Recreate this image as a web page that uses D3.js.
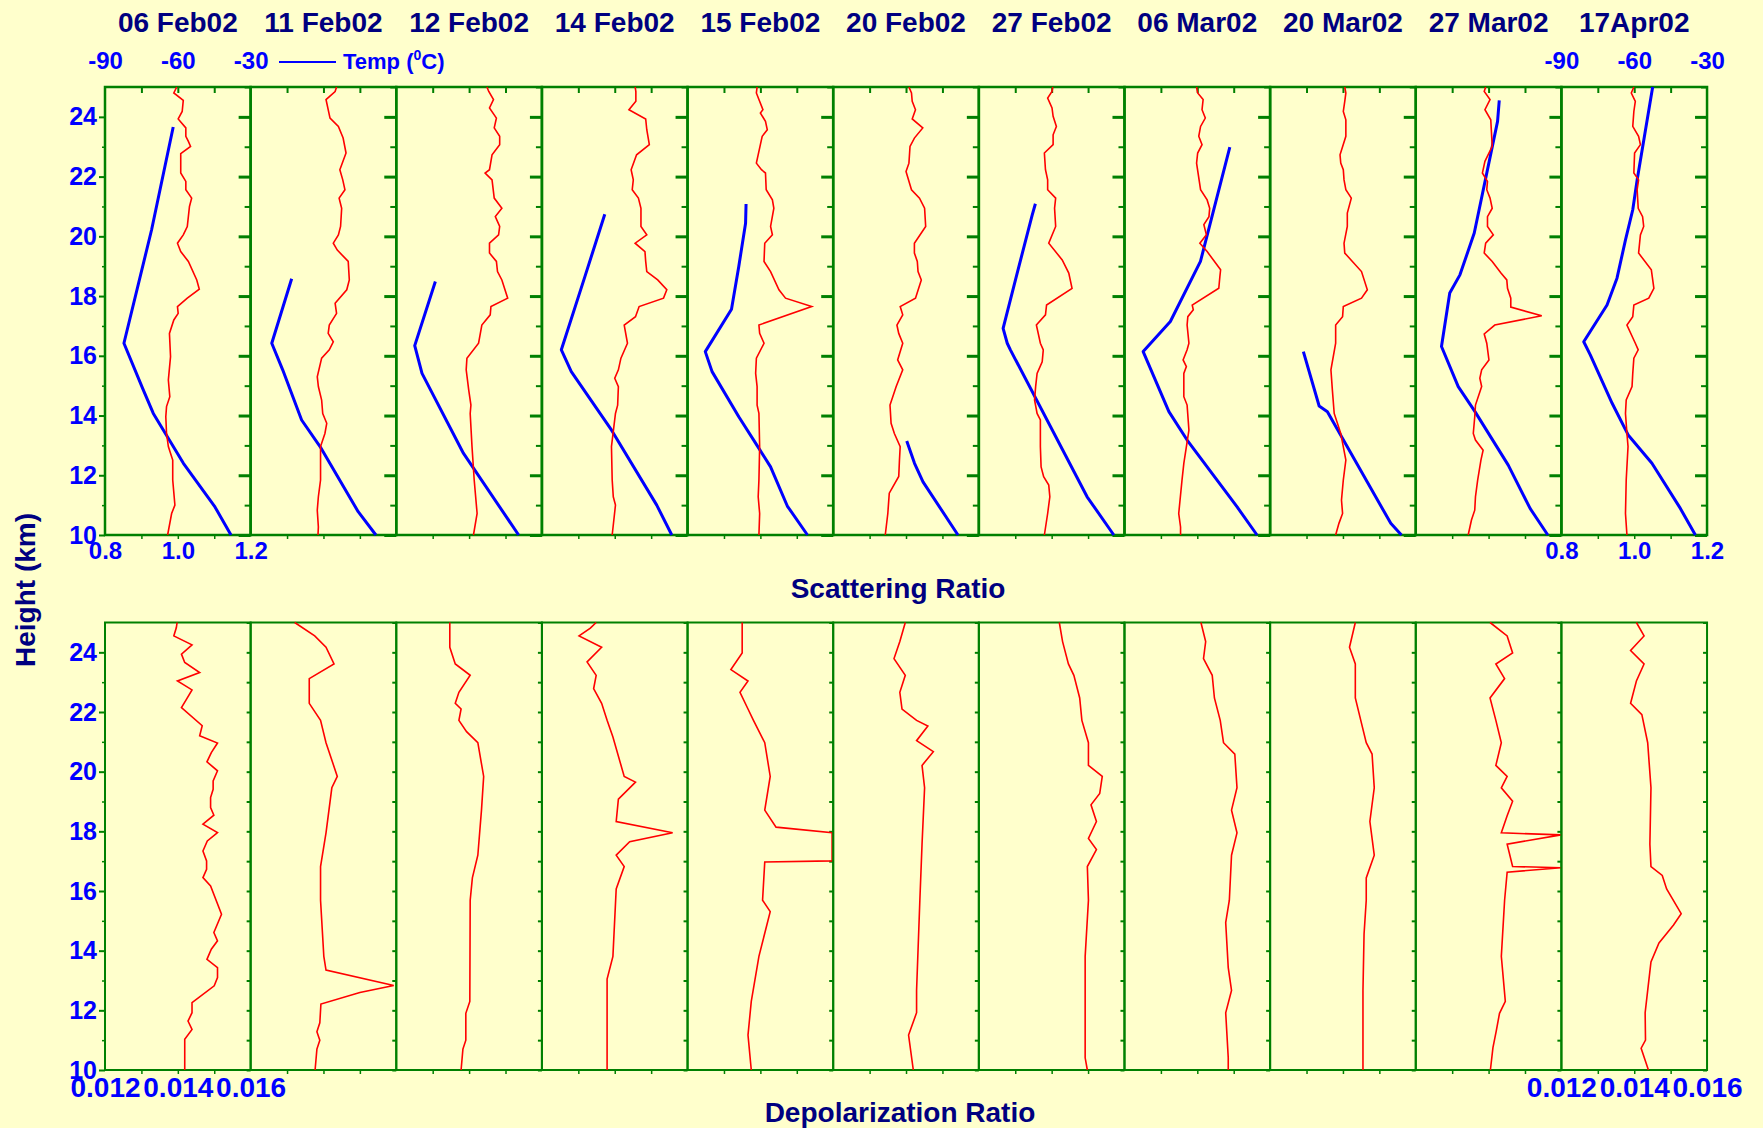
<!DOCTYPE html>
<html><head><meta charset="utf-8">
<script src="https://cdn.jsdelivr.net/npm/d3@7"></script>
<style>html,body{margin:0;padding:0;background:#FFFFCC;} svg{display:block;}</style>
</head><body><svg id="c" width="1763" height="1128"></svg>
<script>
// ---------------- DATA ----------------
const dates = ["06 Feb02","11 Feb02","12 Feb02","14 Feb02","15 Feb02","20 Feb02","27 Feb02","06 Mar02","20 Mar02","27 Mar02","17Apr02"];
const heightTicks = [10,12,14,16,18,20,22,24];
const srTickLabels = [0.8,1.0,1.2];
const tempTickLabels = [-90,-60,-30];
const dpTickLabels = [0.012,0.014,0.016];

// scattering ratio profiles [height km, ratio]
const sr06Feb = [[25,0.997],[24.8,0.989],[24.55,1.015],[24.18,1.012],[23.93,1.001],[23.63,1.022],[23.35,1.022],[23.18,1.029],[23.01,1.035],[22.77,1.008],[22.12,1.008],[21.84,1.022],[21.56,1.022],[21.28,1.038],[21.0,1.032],[20.33,1.026],[20.05,1.015],[19.77,0.999],[19.49,1.008],[19.16,1.029],[18.54,1.052],[18.23,1.059],[17.93,1.026],[17.65,0.999],[17.42,1.001],[17.2,0.989],[16.75,0.977],[15.97,0.980],[15.19,0.974],[14.63,0.978],[14.30,0.969],[13.96,0.967],[13.40,0.969],[12.96,0.974],[12.51,0.986],[11.84,0.986],[11.0,0.992],[10.72,0.983],[10.0,0.972]];
const sr11Feb = [[25,1.036],[24.85,1.032],[24.58,1.007],[23.96,1.018],[23.68,1.041],[23.29,1.054],[22.79,1.062],[22.23,1.045],[21.89,1.053],[21.56,1.059],[21.28,1.043],[20.94,1.050],[20.33,1.047],[20.05,1.041],[19.77,1.027],[19.54,1.038],[19.16,1.068],[18.54,1.071],[18.21,1.064],[17.76,1.032],[17.42,1.036],[17.03,1.016],[16.75,1.013],[16.47,1.027],[16.2,1.016],[15.92,0.995],[15.3,0.983],[14.97,0.986],[14.52,0.995],[14.07,0.998],[13.74,1.009],[13.40,1.004],[12.96,0.992],[11.84,0.992],[11.28,0.986],[10.83,0.983],[10.27,0.986],[10,0.985]];
const sr12Feb = [[25,1.049],[24.85,1.054],[24.58,1.067],[24.30,1.056],[23.96,1.075],[23.63,1.069],[23.35,1.084],[23.07,1.084],[22.73,1.063],[22.23,1.056],[22.12,1.044],[21.89,1.063],[21.28,1.069],[20.94,1.090],[20.66,1.072],[20.33,1.084],[20.05,1.081],[19.77,1.056],[19.44,1.056],[19.16,1.075],[18.82,1.078],[18.54,1.090],[17.93,1.106],[17.65,1.060],[17.37,1.058],[17.03,1.035],[16.42,1.026],[15.92,0.994],[15.53,0.992],[14.85,0.999],[14.35,1.005],[14.07,1.003],[12.96,1.008],[11.84,1.014],[10.72,1.022],[10,1.012]];
const sr14Feb = [[25,1.056],[24.85,1.058],[24.52,1.058],[24.24,1.039],[23.93,1.085],[23.57,1.088],[23.07,1.095],[22.73,1.060],[22.23,1.045],[21.89,1.051],[21.56,1.048],[21.28,1.065],[20.94,1.072],[20.33,1.072],[20.05,1.088],[19.77,1.056],[19.49,1.083],[19.16,1.085],[18.82,1.088],[18.54,1.118],[18.21,1.143],[17.93,1.134],[17.65,1.067],[17.31,1.057],[17.03,1.026],[16.42,1.035],[15.92,1.017],[15.53,1.010],[15.25,1.000],[14.97,1.010],[14.35,1.008],[14.07,1.002],[12.96,0.991],[11.84,0.993],[11.28,0.996],[11.0,1.002],[10,0.993]];
const sr15Feb = [[25,0.991],[24.8,0.989],[24.58,0.996],[24.24,1.007],[24.13,1.000],[23.85,1.014],[23.57,1.019],[23.35,1.005],[23.07,1.000],[22.45,0.989],[22.23,1.003],[22.12,1.014],[21.56,1.016],[21.22,1.033],[20.94,1.037],[20.33,1.028],[20.05,1.033],[19.77,1.012],[19.16,1.010],[18.82,1.028],[18.21,1.051],[17.93,1.069],[17.65,1.141],[17.03,0.996],[16.75,0.998],[16.42,1.010],[15.92,0.989],[15.41,0.987],[14.97,0.991],[14.35,0.991],[14.07,0.996],[12.96,0.998],[11.84,0.996],[11.28,0.994],[10.72,0.998],[10,0.996]];
const sr20Feb = [[25,1.008],[24.8,1.015],[24.52,1.017],[24.24,1.026],[23.93,1.017],[23.63,1.046],[23.29,1.023],[23.01,1.011],[22.45,1.008],[22.17,1.000],[21.56,1.015],[21.28,1.037],[20.94,1.051],[20.33,1.054],[19.77,1.023],[19.44,1.023],[19.16,1.031],[18.82,1.033],[18.54,1.042],[17.93,1.026],[17.65,0.984],[17.37,0.991],[17.03,0.975],[16.75,0.980],[16.42,0.991],[15.86,0.977],[15.53,0.991],[14.97,0.973],[14.35,0.956],[13.74,0.959],[13.40,0.968],[12.96,0.984],[12.51,0.982],[11.96,0.980],[11.40,0.954],[10.72,0.950],[10,0.943]];
const sr27Feb = [[25,1.003],[24.85,1.001],[24.63,0.989],[24.3,1.001],[24.02,1.004],[23.68,1.013],[23.40,1.004],[23.07,1.004],[22.79,0.980],[22.23,0.983],[21.89,0.989],[21.56,0.989],[21.28,1.011],[20.94,1.008],[20.33,1.011],[19.77,0.992],[19.21,1.029],[18.77,1.047],[18.26,1.056],[17.70,0.986],[17.37,0.983],[17.03,0.958],[16.42,0.969],[16.20,0.977],[15.80,0.974],[15.41,0.960],[14.97,0.956],[14.52,0.953],[14.07,0.960],[13.85,0.969],[12.96,0.969],[12.28,0.971],[11.95,0.978],[11.67,0.992],[11.28,0.995],[10.72,0.989],[10,0.980]];
const sr06Mar = [[25,0.998],[24.8,1.001],[24.58,1.016],[24.24,1.013],[23.96,1.022],[23.68,1.009],[23.35,1.004],[23.07,1.013],[22.79,1.001],[22.45,0.998],[21.56,1.009],[21.22,1.027],[20.94,1.034],[20.66,1.032],[20.39,1.018],[20.05,1.025],[19.77,1.007],[19.49,1.027],[18.88,1.064],[18.65,1.062],[18.26,1.059],[17.70,0.986],[17.54,0.989],[17.31,0.974],[17.03,0.972],[16.42,0.977],[16.20,0.972],[15.86,0.961],[15.64,0.970],[15.41,0.963],[14.63,0.963],[14.35,0.972],[13.51,0.977],[12.40,0.963],[11.84,0.958],[10.72,0.949],[10.27,0.954],[10,0.954]];
const sr20Mar = [[25,1.005],[24.8,1.008],[24.52,1.005],[24.18,1.001],[23.9,1.008],[23.35,1.008],[22.73,0.992],[22.45,0.994],[22.23,1.001],[21.89,1.003],[21.56,1.008],[21.28,1.023],[20.78,1.012],[20.33,1.012],[19.77,1.003],[19.44,1.005],[18.82,1.051],[18.21,1.067],[17.93,1.051],[17.65,1.001],[17.31,0.999],[17.03,0.980],[16.42,0.980],[15.53,0.967],[14.85,0.971],[14.07,0.976],[13.40,0.994],[12.51,1.008],[11.84,1.001],[11.17,0.996],[10.72,0.999],[10.39,0.989],[10,0.980]];
const sr27Mar = [[25,0.992],[24.85,0.988],[24.58,1.004],[24.24,0.990],[23.9,1.006],[23.01,1.010],[22.51,0.990],[22.12,0.983],[21.84,0.997],[21.56,0.995],[21.28,1.004],[20.94,1.010],[20.66,0.997],[20.33,0.997],[20.05,1.013],[19.77,0.992],[19.44,0.988],[19.16,1.010],[18.77,1.034],[18.54,1.050],[18.26,1.052],[17.93,1.061],[17.63,1.061],[17.34,1.146],[17.03,1.017],[16.73,0.988],[16.42,0.995],[15.86,1.001],[15.53,0.981],[15.25,0.976],[14.97,0.981],[14.35,0.964],[13.96,0.962],[13.40,0.958],[13.18,0.964],[12.84,0.985],[12.51,0.979],[11.84,0.970],[11.28,0.964],[10.83,0.962],[10.50,0.953],[10,0.944]];
const sr17Apr = [[25,0.999],[24.8,0.992],[24.52,1.003],[24.18,0.999],[23.68,0.996],[23.35,1.012],[23.07,1.017],[22.79,1.001],[22.12,0.999],[21.89,1.012],[21.56,1.008],[20.94,1.011],[20.66,1.023],[20.33,1.026],[20.05,1.017],[19.44,1.012],[18.88,1.047],[18.26,1.054],[17.93,1.040],[17.70,0.999],[17.31,0.996],[17.03,0.980],[16.42,1.003],[16.20,1.011],[15.92,0.999],[15.41,0.996],[14.97,0.994],[14.52,0.978],[14.07,0.976],[13.40,0.980],[12.96,0.983],[11.84,0.978],[10.72,0.976],[10,0.980]];

// temperature profiles [height km, deg C]
const t06Feb = [[23.66,-61.9],[20.22,-70.8],[16.42,-82.2],[14.91,-74.5],[14.07,-70.1],[12.40,-57.7],[10.94,-44.7],[10.0,-38.1]];
const t11Feb = [[18.58,-73.1],[16.42,-81.3],[15.53,-76.8],[13.85,-69.0],[12.96,-61.4],[10.78,-45.7],[10,-38.4]];
const t12Feb = [[18.49,-73.9],[16.34,-82.4],[15.41,-79.4],[12.73,-62.3],[10,-39.6]];
const t14Feb = [[20.74,-64.1],[18.65,-72.3],[16.2,-82.0],[15.47,-77.9],[13.51,-61.3],[11.0,-42.7],[10,-36.5]];
const t15Feb = [[21.08,-65.9],[20.44,-66.1],[18.99,-68.9],[17.56,-71.9],[16.14,-82.7],[15.47,-79.9],[13.96,-68.9],[12.9,-60.6],[12.28,-55.8],[10.97,-48.9],[10,-40.6]];
const t20Feb = [[13.15,-59.7],[12.4,-56.5],[11.78,-53.0],[10,-38.6]];
const t27Feb = [[21.09,-66.7],[20.72,-68.0],[18.77,-74.2],[16.92,-80.0],[16.42,-78.3],[16.2,-77.0],[11.28,-45.4],[10,-34.4]];
const t06Mar = [[22.99,-46.6],[19.16,-58.7],[17.15,-71.1],[16.14,-82.3],[14.13,-71.7],[13.18,-64.2],[10.94,-43.6],[10,-35.4]];
const t20Mar = [[16.14,-76.3],[14.32,-69.8],[14.13,-66.4],[10.39,-40.3],[10,-35.9]];
const t27Mar = [[24.55,-55.6],[23.85,-56.3],[20.11,-65.9],[18.71,-71.8],[18.1,-76.0],[16.31,-79.4],[14.97,-72.5],[14.13,-65.6],[12.34,-51.9],[10.89,-42.9],[10,-35.6]];
const t17Apr = [[25,-52.4],[21.89,-58.8],[20.89,-60.6],[19.88,-63.6],[18.6,-67.1],[17.70,-71.2],[16.47,-80.8],[16.03,-78.1],[14.41,-69.1],[13.35,-62.5],[12.40,-52.7],[10.89,-41.0],[10,-34.8]];

// depolarization ratio profiles [height km, ratio]
const dp06Feb = [[25,0.01398],[24.83,0.01396],[24.55,0.01389],[24.25,0.01439],[23.94,0.01410],[23.66,0.01419],[23.32,0.01460],[23.04,0.01399],[22.74,0.01439],[22.43,0.01424],[22.15,0.01410],[21.54,0.01467],[21.2,0.01460],[20.96,0.01509],[20.64,0.01492],[20.33,0.01480],[20.03,0.01509],[19.69,0.01497],[19.41,0.01497],[19.13,0.01490],[18.80,0.01490],[18.54,0.01499],[18.24,0.01469],[17.96,0.01509],[17.68,0.01481],[17.34,0.01469],[17.01,0.01479],[16.73,0.01479],[16.45,0.01469],[16.17,0.01490],[15.22,0.01520],[14.61,0.01499],[14.33,0.01509],[14.05,0.01492],[13.71,0.01480],[13.43,0.01509],[13.10,0.01509],[12.82,0.01500],[12.26,0.01439],[11.92,0.01439],[11.64,0.01428],[11.36,0.01439],[11.03,0.01419],[10,0.01419]];
const dp11Feb = [[25,0.01321],[24.55,0.01376],[24.17,0.01407],[23.61,0.01429],[23.12,0.01361],[22.29,0.01361],[21.72,0.01392],[20.97,0.01407],[19.84,0.01438],[19.46,0.01423],[17.95,0.01407],[16.82,0.01392],[15.69,0.01392],[13.81,0.01401],[13.35,0.01407],[12.83,0.01593],[12.60,0.01500],[12.21,0.01393],[11.58,0.0139],[11.28,0.01382],[11.0,0.0139],[10.7,0.01382],[10,0.01377]];
const dp12Feb = [[25,0.01347],[24.17,0.01347],[23.61,0.01362],[23.23,0.01403],[22.66,0.01372],[22.29,0.01362],[22.10,0.01378],[21.72,0.01372],[21.34,0.01393],[20.97,0.01424],[19.84,0.0144],[18.71,0.01434],[17.20,0.01424],[16.44,0.01409],[15.69,0.01403],[12.3,0.01402],[11.9,0.01391],[11.0,0.01391],[10.7,0.01383],[10,0.01378]];
const dp14Feb = [[25,0.01349],[24.81,0.01333],[24.55,0.01302],[24.17,0.01364],[23.68,0.01324],[23.23,0.01349],[22.78,0.01342],[22.29,0.01364],[21.72,0.01379],[21.16,0.01395],[19.84,0.01426],[19.65,0.01457],[19.08,0.0141],[18.33,0.01404],[17.95,0.01559],[17.65,0.01441],[17.20,0.01404],[16.82,0.01426],[16.07,0.01404],[13.81,0.01395],[13.05,0.01379],[10,0.01379]];
const dp15Feb = [[25,0.0135],[23.98,0.0135],[23.42,0.01319],[23.04,0.01366],[22.66,0.01344],[22.10,0.01366],[21.72,0.01381],[20.97,0.01412],[19.84,0.01427],[18.71,0.01412],[18.14,0.01443],[17.95,0.01597],[17.01,0.01597],[16.97,0.01412],[15.69,0.01406],[15.31,0.01427],[13.81,0.01396],[12.30,0.01375],[11.17,0.01366],[10,0.01375]];
const dp20Feb = [[25,0.01398],[24.36,0.01383],[23.79,0.01367],[23.23,0.01398],[22.66,0.01383],[22.10,0.01389],[21.72,0.01429],[21.53,0.0146],[21.04,0.01429],[20.67,0.01475],[20.21,0.01444],[19.46,0.01451],[17.57,0.01444],[15.69,0.01438],[12.67,0.01429],[11.92,0.01429],[11.17,0.01407],[10,0.0142]];
const dp27Feb = [[25,0.01421],[24.36,0.0143],[23.61,0.01446],[23.23,0.01461],[22.47,0.01477],[21.72,0.01483],[20.97,0.01501],[20.21,0.01501],[19.84,0.01539],[19.27,0.01532],[18.89,0.01508],[18.33,0.01523],[17.76,0.01501],[17.39,0.01523],[16.82,0.01498],[15.69,0.01501],[13.81,0.01492],[10.41,0.01492],[10,0.01498]];
const dp06Mar = [[25,0.0141],[24.36,0.01423],[23.79,0.01417],[23.23,0.01441],[22.47,0.01447],[21.72,0.01463],[20.97,0.01472],[20.59,0.01503],[19.46,0.01509],[18.71,0.01494],[17.95,0.01509],[17.20,0.01494],[15.69,0.01488],[14.94,0.01478],[13.43,0.01485],[12.67,0.01494],[11.92,0.01478],[10.41,0.01485],[10,0.01485]];
const dp20Mar = [[25,0.01434],[24.17,0.01418],[23.61,0.01434],[22.47,0.01434],[21.72,0.01449],[20.97,0.01464],[20.59,0.0148],[19.46,0.01486],[18.33,0.01474],[17.20,0.01486],[16.44,0.01464],[15.69,0.01464],[14.56,0.01458],[12.67,0.01455],[10,0.01455]];
const dp27Mar = [[25,0.01404],[24.55,0.01451],[23.98,0.01466],[23.61,0.0142],[23.12,0.01444],[22.47,0.01404],[21.72,0.0142],[20.97,0.01435],[20.21,0.0142],[19.84,0.01451],[19.46,0.01435],[19.01,0.01466],[18.52,0.01451],[17.95,0.01435],[17.88,0.01599],[17.57,0.01451],[16.82,0.01466],[16.78,0.01599],[16.63,0.01451],[15.69,0.01444],[13.81,0.01435],[12.3,0.01446],[11.9,0.0143],[11.3,0.01421],[10.75,0.01412],[10,0.01405]];
const dp17Apr = [[25,0.01406],[24.55,0.01427],[24.06,0.0139],[23.61,0.01427],[23.04,0.01406],[22.29,0.0139],[21.91,0.01421],[20.97,0.01437],[19.46,0.01446],[17.57,0.01443],[16.82,0.01446],[16.52,0.01477],[16.07,0.01489],[15.24,0.01529],[14.86,0.01508],[14.26,0.01468],[13.62,0.01446],[12.67,0.01437],[11.92,0.0143],[11.0,0.01431],[10.73,0.01419],[10,0.01439]];

const srProfiles = [sr06Feb,sr11Feb,sr12Feb,sr14Feb,sr15Feb,sr20Feb,sr27Feb,sr06Mar,sr20Mar,sr27Mar,sr17Apr];
const tProfiles = [t06Feb,t11Feb,t12Feb,t14Feb,t15Feb,t20Feb,t27Feb,t06Mar,t20Mar,t27Mar,t17Apr];
const dpProfiles = [dp06Feb,dp11Feb,dp12Feb,dp14Feb,dp15Feb,dp20Feb,dp27Feb,dp06Mar,dp20Mar,dp27Mar,dp17Apr];

// ---------------- DRAW ----------------
const W = 1763, H = 1128;
const FONT = "'Liberation Sans', Arial, Helvetica, sans-serif";
const NAVY = "#000080", BLUE = "#0000FF", RED = "#FF0000", GREEN = "#008000";
const svg = d3.select("#c");
svg.append("rect").attr("width", W).attr("height", H).attr("fill", "#FFFFCC");

const x0 = 105, pw = 145.64, n = dates.length;
const yTop = d3.scaleLinear().domain([10, 25]).range([535, 87]);
const yBot = d3.scaleLinear().domain([10, 25]).range([1070, 622.5]);
const majors = heightTicks.slice();
const minors = [11,13,15,17,19,21,23,25];
const plain = d => String(d);

function styleAxis(g, color, width) {
  g.select(".domain").remove();
  g.selectAll(".tick line").attr("stroke", color).attr("stroke-width", width);
  g.selectAll(".tick text").attr("font-family", FONT).attr("font-weight", "bold").attr("fill", BLUE);
}

for (let i = 0; i < n; i++) {
  const L = x0 + i * pw, R = L + pw;
  const xSR = d3.scaleLinear().domain([0.8, 1.2]).range([L, R]);
  const xT = d3.scaleLinear().domain([-90, -30]).range([L, R]);
  const xD = d3.scaleLinear().domain([0.012, 0.016]).range([L, R]);

  // ---- top row ----
  styleAxis(svg.append("g").attr("transform", `translate(${R},0)`)
    .call(d3.axisLeft(yTop).tickValues(majors).tickSize(12).tickFormat("")), GREEN, 3);
  styleAxis(svg.append("g").attr("transform", `translate(${R},0)`)
    .call(d3.axisLeft(yTop).tickValues(minors).tickSize(6).tickFormat("")), GREEN, 2);
  styleAxis(svg.append("g").attr("transform", `translate(0,${yTop(25)})`)
    .call(d3.axisTop(xSR).tickValues([0.9, 1.0, 1.1]).tickSize(-6).tickFormat("")), GREEN, 2);
  styleAxis(svg.append("g").attr("transform", `translate(0,${yTop(10)})`)
    .call(d3.axisBottom(xSR).tickValues([0.9, 1.0, 1.1]).tickSize(4).tickFormat("")), GREEN, 1.5);
  svg.append("rect").attr("x", L).attr("y", yTop(25)).attr("width", pw).attr("height", yTop(10) - yTop(25))
    .attr("fill", "none").attr("stroke", GREEN).attr("stroke-width", 2.5);

  svg.append("path").datum(tProfiles[i])
    .attr("d", d3.line().x(d => xT(d[1])).y(d => yTop(d[0])))
    .attr("fill", "none").attr("stroke", BLUE).attr("stroke-width", 3).attr("stroke-linejoin", "round");
  svg.append("path").datum(srProfiles[i])
    .attr("d", d3.line().x(d => xSR(d[1])).y(d => yTop(d[0])))
    .attr("fill", "none").attr("stroke", RED).attr("stroke-width", 1.6);

  svg.append("text").attr("x", (L + R) / 2).attr("y", 32).attr("text-anchor", "middle")
    .attr("font-family", FONT).attr("font-weight", "bold").attr("font-size", 28).attr("fill", NAVY)
    .text(dates[i]);

  // ---- bottom row ----
  styleAxis(svg.append("g").attr("transform", `translate(${R},0)`)
    .call(d3.axisLeft(yBot).tickValues(majors.concat(minors)).tickSize(4).tickFormat("")), GREEN, 2);
  styleAxis(svg.append("g").attr("transform", `translate(0,${yBot(10)})`)
    .call(d3.axisBottom(xD).tickValues([0.013, 0.014, 0.015]).tickSize(4).tickFormat("")), GREEN, 1.5);
  svg.append("rect").attr("x", L).attr("y", yBot(25)).attr("width", pw).attr("height", yBot(10) - yBot(25))
    .attr("fill", "none").attr("stroke", GREEN).attr("stroke-width", 2);
  svg.append("path").datum(dpProfiles[i])
    .attr("d", d3.line().x(d => xD(d[1])).y(d => yBot(d[0])))
    .attr("fill", "none").attr("stroke", RED).attr("stroke-width", 1.6);

  if (i === 0 || i === n - 1) {
    const gT = svg.append("g").attr("transform", `translate(0,${yTop(25)})`)
      .call(d3.axisTop(xT).tickValues(tempTickLabels).tickSize(0).tickPadding(18).tickFormat(plain));
    styleAxis(gT, GREEN, 0); gT.selectAll("text").attr("font-size", 24);
    const gS = svg.append("g").attr("transform", `translate(0,${yTop(10)})`)
      .call(d3.axisBottom(xSR).tickValues(srTickLabels).tickSize(0).tickPadding(7).tickFormat(d3.format(".1f")));
    styleAxis(gS, GREEN, 0); gS.selectAll("text").attr("font-size", 24);
    const gD = svg.append("g").attr("transform", `translate(0,${yBot(10)})`)
      .call(d3.axisBottom(xD).tickValues(dpTickLabels).tickSize(0).tickPadding(7).tickFormat(d3.format(".3f")));
    styleAxis(gD, GREEN, 0); gD.selectAll("text").attr("font-size", 28);
  }
}

[yTop, yBot].forEach(ys => {
  const g = svg.append("g").attr("transform", `translate(${x0},0)`)
    .call(d3.axisLeft(ys).tickValues(heightTicks).tickSize(6).tickPadding(2).tickFormat(plain));
  styleAxis(g, GREEN, 2); g.selectAll("text").attr("font-size", 25);
  styleAxis(svg.append("g").attr("transform", `translate(${x0},0)`)
    .call(d3.axisLeft(ys).tickValues(minors.slice(0, 7)).tickSize(3).tickFormat("")), GREEN, 1.5);
});

// legend
svg.append("line").attr("x1", 279).attr("x2", 336).attr("y1", 62).attr("y2", 62)
  .attr("stroke", BLUE).attr("stroke-width", 2);
const lt = svg.append("text").attr("x", 343).attr("y", 69).attr("font-family", FONT)
  .attr("font-weight", "bold").attr("font-size", 22).attr("fill", BLUE);
lt.append("tspan").text("Temp (");
lt.append("tspan").attr("font-size", 14).attr("dy", -9).text("0");
lt.append("tspan").attr("dy", 9).text("C)");

// axis titles
svg.append("text").attr("x", 898).attr("y", 598).attr("text-anchor", "middle")
  .attr("font-family", FONT).attr("font-weight", "bold").attr("font-size", 28).attr("fill", NAVY)
  .text("Scattering Ratio");
svg.append("text").attr("x", 900).attr("y", 1122).attr("text-anchor", "middle")
  .attr("font-family", FONT).attr("font-weight", "bold").attr("font-size", 28).attr("fill", NAVY)
  .text("Depolarization Ratio");
svg.append("text").attr("transform", "translate(35,590) rotate(-90)").attr("text-anchor", "middle")
  .attr("font-family", FONT).attr("font-weight", "bold").attr("font-size", 28).attr("fill", NAVY)
  .text("Height (km)");
</script>
</body></html>
